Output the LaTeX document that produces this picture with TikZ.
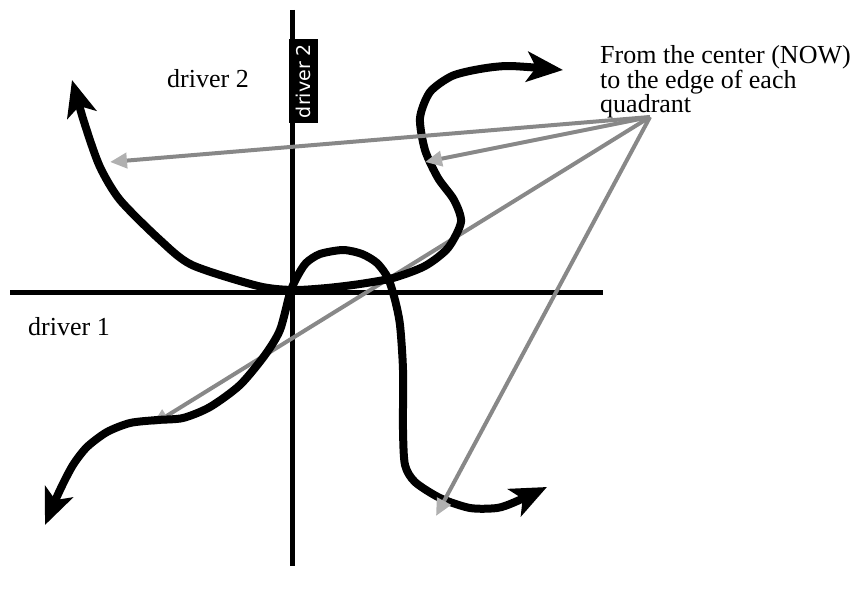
\documentclass[tikz,border=0pt]{standalone}
\usepackage{fontspec}
\setmainfont{Liberation Serif}
\newfontfamily\tagfont{DejaVu Sans}
\usepackage{xcolor}
\definecolor{cLine}{HTML}{888888}
\definecolor{cTip}{HTML}{B0B0B0}
\usepackage{tikz}
\usetikzlibrary{positioning,arrows.meta}
\tikzset{
  axis-line/.style={line width=5pt,draw=black},
  trend-path/.style={line width=8pt,draw=black,line join=round,
    {Stealth[length=36pt,width=30pt,inset=9pt]}-{Stealth[length=36pt,width=30pt,inset=9pt]}},
  arrow-now/.style={line width=4pt,draw=cLine,
    -{Triangle[length=17pt,width=15pt,fill=cTip,color=cTip]}},
  label-text/.style={font=\fontsize{26}{21}\selectfont,inner sep=0pt,align=left},
  label-tag/.style={fill=black,text=white,rotate=90,inner sep=0pt,
    minimum width=84pt,minimum height=29pt,font=\tagfont\fontsize{19}{19}\selectfont},
}
\begin{document}
\begin{tikzpicture}[x=1pt,y=-1pt]
  \useasboundingbox (0,0) rectangle (867,594);
  % axes
  \coordinate (xl) at (10,292);
  \coordinate (xr) at (603,292);
  \coordinate (yt) at (292,10);
  \coordinate (yb) at (292,566);
  \draw[axis-line] (xl) -- (xr);
  \draw[axis-line] (yt) -- (yb);
  \node[label-tag] (tag2) at (303,81) {driver 2};
  \node[label-text,anchor=base west] (drv2) at (167,88) {driver 2};
  \node[label-text,anchor=base west] (drv1) at (28,335) {driver 1};
  % from NOW to the quadrant edges
  \node[label-text,anchor=north west] (note) at (600,45)
    {From the center (NOW)\\to the edge of each\\quadrant};
  \coordinate (now) at (650,117);
  \coordinate (edgeA) at (110,162);
  \coordinate (edgeB) at (425,162);
  \coordinate (edgeC) at (152,425);
  \coordinate (edgeD) at (436,516);
  \draw[arrow-now] (now) -- (edgeC);
  % the two trends
  \draw[trend-path] plot[smooth,tension=0.45] coordinates {
    (72,80) (86,128) (100,167) (120,200) (160,240) (192,265) (258,286)
    (293,290) (327,288) (360,284) (393,278) (425,266) (448,248) (461,222)
    (454,200) (438,178) (425,150) (420,118) (430,92) (452,76) (480,69)
    (510,66) (563,70)};
  \draw[trend-path] plot[smooth,tension=0.45] coordinates {
    (45,525) (60,490) (73,465) (87,447) (107,432) (130,423) (157,420)
    (183,418) (210,407) (240,385) (265,355) (280,330) (290,293) (297,277)
    (306,263) (320,254) (343,250) (362,254) (377,263) (388,278) (395,300)
    (400,325) (403,370) (403,430) (405,465) (415,482) (440,498) (470,508)
    (497,508) (515,502) (547,487)};
  \foreach \e in {edgeA,edgeB,edgeD}
    \draw[arrow-now] (now) -- (\e);
\end{tikzpicture}
\end{document}
